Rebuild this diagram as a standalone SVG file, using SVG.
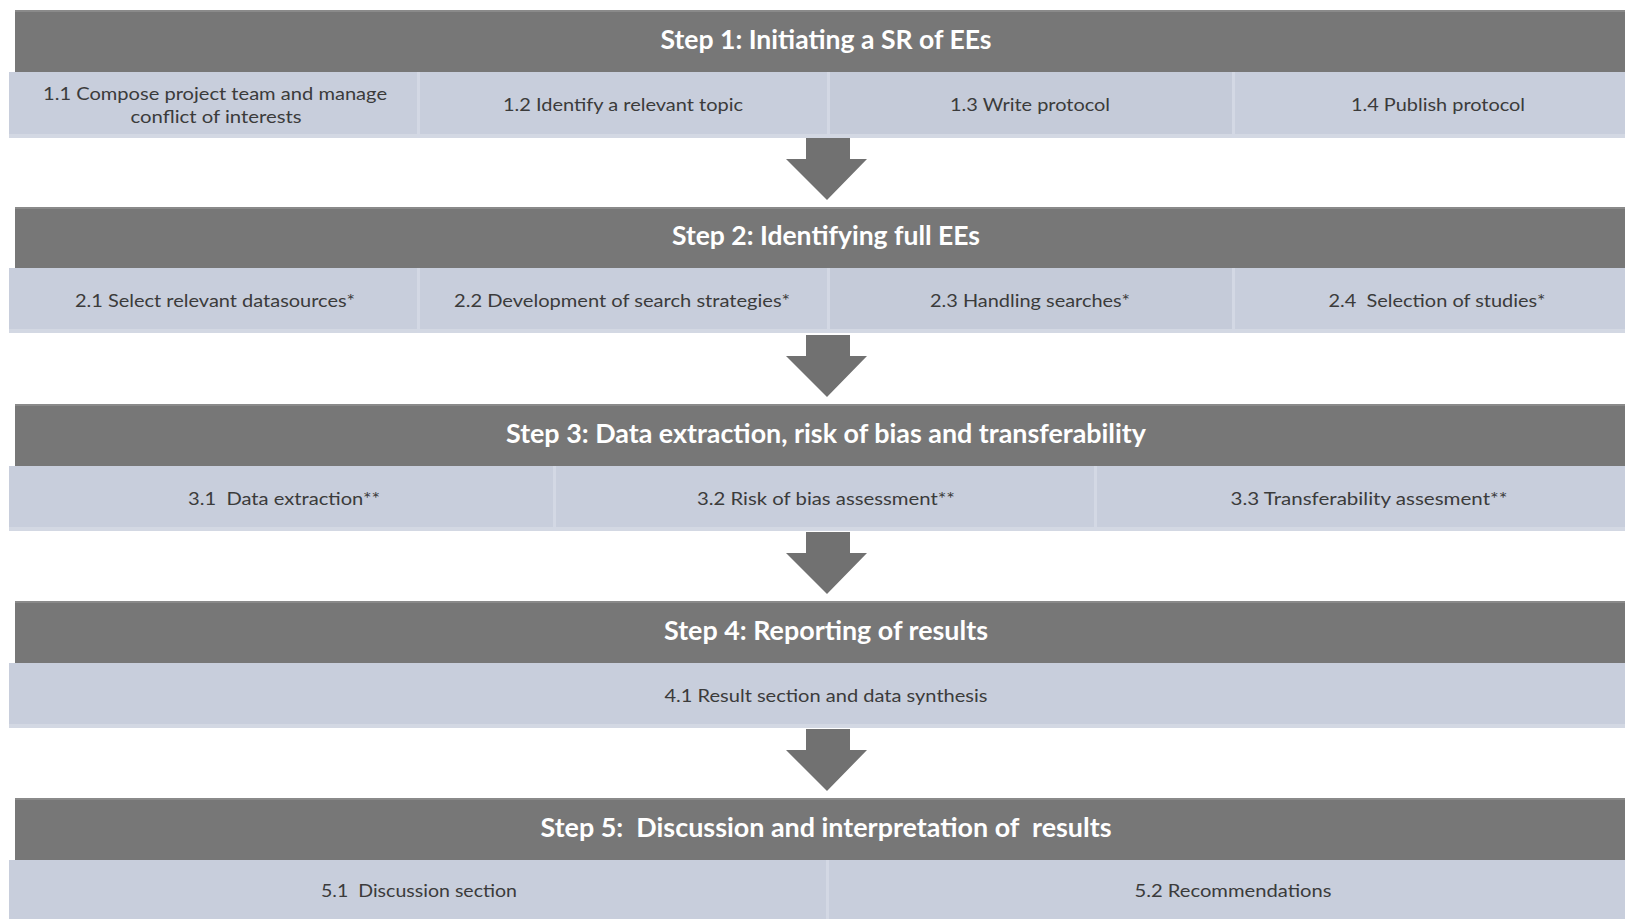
<svg xmlns="http://www.w3.org/2000/svg" width="1625" height="919" viewBox="0 0 1625 919">
  <style>
    .hdr { fill: #777777; }
    .hdr-edge { fill: #8a8a8a; }
    .cell { fill: #c8cedc; }
    .cell-alt { fill: #c5cbd9; }
    .cell-foot { fill: #d3d8e3; }
    .div { fill: #d3d8e4; }
    .title { font-family: Lato, "Liberation Sans", sans-serif; font-weight: bold; font-size: 26px; fill: #ffffff; text-anchor: middle; white-space: pre; }
    .lbl { font-family: Lato, "Liberation Sans", sans-serif; font-size: 18px; fill: #3b3b3b; text-anchor: middle; white-space: pre; }
    .arrow { fill: #717171; }
  </style>

  <rect width="1625" height="919" fill="#ffffff"/>

  <!-- Step 1 -->
  <g id="step1">
    <rect class="hdr" x="15" y="10" width="1610" height="62"/>
    <rect class="hdr-edge" x="15" y="10" width="1610" height="2"/>
    <text class="title" x="826" y="49" textLength="331" lengthAdjust="spacingAndGlyphs">Step 1: Initiating a SR of EEs</text>
    <g id="step1-1">
      <rect class="cell" x="9" y="72" width="409" height="66"/>
      <text class="lbl" x="215" y="100" textLength="344" lengthAdjust="spacingAndGlyphs">1.1 Compose project team and manage</text>
      <text class="lbl" x="216" y="123" textLength="171" lengthAdjust="spacingAndGlyphs">conflict of interests</text>
    </g>
    <g id="step1-2">
      <rect class="cell" x="418" y="72" width="410" height="66"/>
      <text class="lbl" x="623" y="111" textLength="240" lengthAdjust="spacingAndGlyphs">1.2 Identify a relevant topic</text>
    </g>
    <g id="step1-3">
      <rect class="cell-alt" x="828" y="72" width="405" height="66"/>
      <text class="lbl" x="1030" y="111" textLength="160" lengthAdjust="spacingAndGlyphs">1.3 Write protocol</text>
    </g>
    <g id="step1-4">
      <rect class="cell" x="1233" y="72" width="392" height="66"/>
      <text class="lbl" x="1438" y="111" textLength="174" lengthAdjust="spacingAndGlyphs">1.4 Publish protocol</text>
    </g>
    <rect class="cell-foot" x="9" y="134" width="1616" height="4"/>
    <rect class="div" x="417" y="72" width="3" height="66"/>
    <rect class="div" x="827" y="72" width="3" height="66"/>
    <rect class="div" x="1232" y="72" width="3" height="66"/>
  </g>

  <!-- Step 2 -->
  <g id="step2">
    <rect class="hdr" x="15" y="207" width="1610" height="61"/>
    <rect class="hdr-edge" x="15" y="207" width="1610" height="2"/>
    <text class="title" x="826" y="245" textLength="308" lengthAdjust="spacingAndGlyphs">Step 2: Identifying full EEs</text>
    <g id="step2-1">
      <rect class="cell" x="9" y="268" width="409" height="65"/>
      <text class="lbl" x="215" y="307" textLength="280" lengthAdjust="spacingAndGlyphs">2.1 Select relevant datasources*</text>
    </g>
    <g id="step2-2">
      <rect class="cell" x="418" y="268" width="410" height="65"/>
      <text class="lbl" x="622" y="307" textLength="336" lengthAdjust="spacingAndGlyphs">2.2 Development of search strategies*</text>
    </g>
    <g id="step2-3">
      <rect class="cell-alt" x="828" y="268" width="405" height="65"/>
      <text class="lbl" x="1030" y="307" textLength="200" lengthAdjust="spacingAndGlyphs">2.3 Handling searches*</text>
    </g>
    <g id="step2-4">
      <rect class="cell" x="1233" y="268" width="392" height="65"/>
      <text class="lbl" x="1437" y="307" textLength="217" lengthAdjust="spacingAndGlyphs">2.4  Selection of studies*</text>
    </g>
    <rect class="cell-foot" x="9" y="329" width="1616" height="4"/>
    <rect class="div" x="417" y="268" width="3" height="65"/>
    <rect class="div" x="827" y="268" width="3" height="65"/>
    <rect class="div" x="1232" y="268" width="3" height="65"/>
  </g>

  <!-- Step 3 -->
  <g id="step3">
    <rect class="hdr" x="15" y="404" width="1610" height="62"/>
    <rect class="hdr-edge" x="15" y="404" width="1610" height="2"/>
    <text class="title" x="826" y="443" textLength="640" lengthAdjust="spacingAndGlyphs">Step 3: Data extraction, risk of bias and transferability</text>
    <g id="step3-1">
      <rect class="cell" x="9" y="466" width="545" height="65"/>
      <text class="lbl" x="284" y="505" textLength="192" lengthAdjust="spacingAndGlyphs">3.1  Data extraction**</text>
    </g>
    <g id="step3-2">
      <rect class="cell" x="554" y="466" width="541" height="65"/>
      <text class="lbl" x="826" y="505" textLength="258" lengthAdjust="spacingAndGlyphs">3.2 Risk of bias assessment**</text>
    </g>
    <g id="step3-3">
      <rect class="cell" x="1095" y="466" width="530" height="65"/>
      <text class="lbl" x="1369" y="505" textLength="277" lengthAdjust="spacingAndGlyphs">3.3 Transferability assesment**</text>
    </g>
    <rect class="cell-foot" x="9" y="527" width="1616" height="4"/>
    <rect class="div" x="553" y="466" width="3" height="65"/>
    <rect class="div" x="1094" y="466" width="3" height="65"/>
  </g>

  <!-- Step 4 -->
  <g id="step4">
    <rect class="hdr" x="15" y="601" width="1610" height="62"/>
    <rect class="hdr-edge" x="15" y="601" width="1610" height="2"/>
    <text class="title" x="826" y="640" textLength="324" lengthAdjust="spacingAndGlyphs">Step 4: Reporting of results</text>
    <g id="step4-1">
      <rect class="cell" x="9" y="663" width="1616" height="65"/>
      <text class="lbl" x="826" y="702" textLength="323" lengthAdjust="spacingAndGlyphs">4.1 Result section and data synthesis</text>
    </g>
    <rect class="cell-foot" x="9" y="724" width="1616" height="4"/>
  </g>

  <!-- Step 5 -->
  <g id="step5">
    <rect class="hdr" x="15" y="798" width="1610" height="62"/>
    <rect class="hdr-edge" x="15" y="798" width="1610" height="2"/>
    <text class="title" x="826" y="837" textLength="571" lengthAdjust="spacingAndGlyphs">Step 5:  Discussion and interpretation of  results</text>
    <g id="step5-1">
      <rect class="cell" x="9" y="860" width="818" height="59"/>
      <text class="lbl" x="419" y="897" textLength="196" lengthAdjust="spacingAndGlyphs">5.1  Discussion section</text>
    </g>
    <g id="step5-2">
      <rect class="cell" x="827" y="860" width="798" height="59"/>
      <text class="lbl" x="1233" y="897" textLength="197" lengthAdjust="spacingAndGlyphs">5.2 Recommendations</text>
    </g>
    <rect class="div" x="826" y="860" width="3" height="59"/>
  </g>

  <!-- Block arrows between steps -->
  <g id="connectors">
    <path class="arrow" d="M806,138 H850 V159 H867 L827,200 L786,159 H806 Z"/>
    <path class="arrow" d="M806,335 H850 V356 H867 L827,397 L786,356 H806 Z"/>
    <path class="arrow" d="M806,532 H850 V553 H867 L827,594 L786,553 H806 Z"/>
    <path class="arrow" d="M806,729 H850 V750 H867 L827,791 L786,750 H806 Z"/>
  </g>
</svg>
